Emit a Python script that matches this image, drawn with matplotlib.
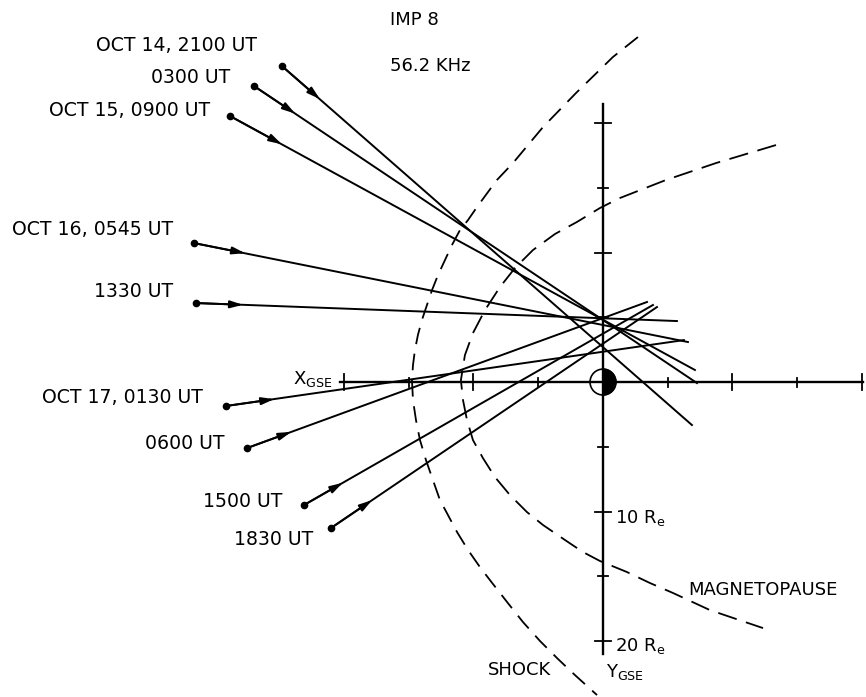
import matplotlib
matplotlib.use("Agg")
import matplotlib.pyplot as plt
from matplotlib.patches import Circle, Wedge

plt.rcParams['font.family'] = ['DejaVu Sans']
plt.rcParams['lines.scale_dashes'] = False

# source directions, IMP 8 at 56.2 kHz; coordinates are (X_GSE, Y_GSE) in Re
ray_labels = ["OCT 14, 2100 UT", "0300 UT", "OCT 15, 0900 UT", "OCT 16, 0545 UT",
              "1330 UT", "OCT 17, 0130 UT", "0600 UT", "1500 UT", "1830 UT"]
ray_start = [(24.79, -24.40), (26.95, -22.86), (28.80, -20.54), (31.58, -10.73),
             (31.43, -6.10), (29.11, 1.85), (27.49, 5.10), (23.09, 9.50), (21.00, 11.27)]
ray_arrow = [(21.86, -21.85), (23.77, -20.73), (24.80, -18.36), (27.64, -9.95),
             (27.80, -5.96), (25.39, 1.32), (24.07, 3.85), (20.09, 7.78), (17.83, 9.12)]
ray_end = [(-6.87, 3.32), (-7.26, 0.08), (-7.10, -0.93), (-6.56, -3.09),
           (-5.71, -4.71), (-6.25, -3.24), (-3.40, -6.18), (-3.86, -5.95), (-4.17, -5.79)]

# bow shock and magnetopause
shock_x = [-2.70, -0.77, 2.08, 4.63, 6.95, 8.19, 8.88, 9.73, 10.42, 11.04, 11.66,
           12.20, 12.74, 13.20, 13.59, 13.98, 14.29, 14.52, 14.67, 14.75, 14.67,
           14.44, 14.13, 13.67, 13.13, 12.59, 11.97, 11.27, 10.42, 9.50, 8.49,
           7.34, 6.18, 4.86, 3.47, 2.16, 0.46]
shock_y = [-26.64, -25.10, -22.32, -19.69, -16.91, -15.60, -14.67, -13.51, -12.51,
           -11.74, -10.58, -9.42, -8.26, -7.10, -5.95, -4.79, -3.63, -2.47, -1.31,
           -0.15, 1.39, 2.93, 4.48, 6.02, 7.57, 9.11, 10.27, 11.58, 12.97, 14.29,
           15.60, 17.07, 18.53, 20.00, 21.39, 22.63, 24.17]
mp_x = [-13.36, -8.73, -4.86, -1.31, 0.23, 2.01, 3.71, 5.41, 6.80, 7.95, 9.11,
        10.04, 10.66, 10.97, 10.81, 10.50, 10.04, 9.27, 8.34, 7.18, 5.87, 4.63,
        2.93, 1.54, 0.23, -1.85, -3.63, -5.41, -8.26, -12.36]
mp_y = [-18.30, -16.91, -15.60, -14.21, -13.44, -12.36, -11.43, -10.19, -8.80,
        -7.34, -5.56, -3.78, -2.08, -0.15, 1.39, 2.93, 4.48, 5.87, 7.34, 8.73,
        10.04, 11.04, 12.20, 13.13, 13.82, 14.67, 15.52, 16.29, 17.61, 19.00]

x_ticks = [20, 15, 10, 5, -5, -10, -15, -20]
y_ticks = [-20, -15, -10, -5, 5, 10, 15, 20]

label_off = [(-25, 21), (-24, 8), (-20, 6), (-21, 14), (-23, 12),
             (-23, 9), (-22, 5), (-22, 4), (-18, -12)]

fig = plt.figure(figsize=(8.66, 6.97), dpi=100)
ax = fig.add_axes([0, 0, 1, 1])
ax.set_xlim(46.56, -20.31)
ax.set_ylim(24.32, -29.5)
ax.axis('off')

# axes through the earth
ax.plot([20.3, -20.1], [0, 0], color='k', lw=1.7)
ax.plot([0, 0], [-21.5, 21.0], color='k', lw=1.7)
for t in x_ticks:
    h = 0.65 if t % 10 == 0 else 0.35
    ax.plot([t, t], [-h, h], color='k', lw=1.3)
for t in y_ticks:
    h = 0.65 if t % 10 == 0 else 0.35
    ax.plot([-h, h], [t, t], color='k', lw=1.3)

# earth, night side (anti-sunward, drawn on the right) dark
ax.add_patch(Circle((0, 0), 1.0, fill=False, ec='k', lw=1.2, zorder=5))
ax.add_patch(Wedge((0, 0), 1.0, 90, 270, fc='k', ec='k', zorder=5))

ax.plot(shock_x, shock_y, color='k', lw=1.3, dashes=(12, 7))
ax.plot(mp_x, mp_y, color='k', lw=1.3, dashes=(14, 7))

for lab, s, a, e, off in zip(ray_labels, ray_start, ray_arrow, ray_end, label_off):
    ax.plot([s[0], e[0]], [s[1], e[1]], color='k', lw=1.4)
    ax.plot(s[0], s[1], 'o', color='k', ms=4.5)
    ax.annotate('', xy=a, xytext=s,
                arrowprops=dict(arrowstyle='-|>,head_length=0.38,head_width=0.11',
                                color='k', lw=1.4, mutation_scale=20,
                                shrinkA=0, shrinkB=0))
    ax.annotate(lab, xy=s, xytext=off, textcoords='offset pixels',
                ha='right', va='center', fontsize=13.6)

fs = 13
ax.text(16.45, -27.95, "IMP 8", ha='left', va='center', fontsize=fs)
ax.text(16.45, -24.4, "56.2 KHz", ha='left', va='center', fontsize=fs)
ax.text(20.9, -0.2, r"X$_{\mathrm{GSE}}$", ha='right', va='center', fontsize=fs)
ax.text(-0.9, 10.9, r"10 R$_{\mathrm{e}}$", ha='left', va='baseline', fontsize=fs)
ax.text(-0.9, 20.8, r"20 R$_{\mathrm{e}}$", ha='left', va='baseline', fontsize=fs)
ax.text(-1.7, 22.4, r"Y$_{\mathrm{GSE}}$", ha='center', va='center', fontsize=fs)
ax.text(-6.56, 16.06, "MAGNETOPAUSE", ha='left', va='center', fontsize=fs)
ax.text(8.88, 22.24, "SHOCK", ha='left', va='center', fontsize=fs)

fig.savefig("out.png", dpi=100)
